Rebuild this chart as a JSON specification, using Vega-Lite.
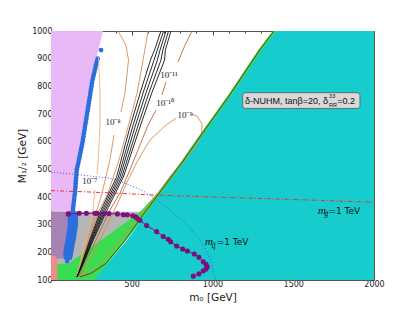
{
"$schema": "https://vega.github.io/schema/vega-lite/v6.json",
"width": 323, "height": 249,
"autosize": {"type": "none"},
"padding": {"left": 51, "top": 31, "right": 41, "bottom": 32},
"background": "white",
"config": {"view": {"stroke": null}, "axis": {"labelFont": "DejaVu Sans", "labelFontSize": 8, "labelColor": "#222", "titleFont": "DejaVu Sans", "titleFontWeight": "normal", "titleFontSize": 10.5, "titleColor": "#222", "grid": false, "zindex": 1, "domainColor": "#555", "tickColor": "#444", "labelFlush": false, "labelOverlap": false}},
"datasets": {
"green": [{"y":100,"x":0,"x2":275},{"y":160,"x":0,"x2":352},{"y":161,"x":110,"x2":353},{"y":353,"x":563,"x2":612},{"y":412,"x":655,"x2":685},{"y":530,"x":808,"x2":835},{"y":606,"x":898,"x2":925},{"y":770,"x":1098,"x2":1125},{"y":931,"x":1283,"x2":1310},{"y":1000,"x":1373,"x2":1400}],
"cyan": [{"y":100,"x":265,"x2":2000},{"y":240,"x":465,"x2":2000},{"y":412,"x":680,"x2":2000},{"y":530,"x":830,"x2":2000},{"y":606,"x":920,"x2":2000},{"y":770,"x":1120,"x2":2000},{"y":931,"x":1305,"x2":2000},{"y":1000,"x":1395,"x2":2000}],
"gray": [{"y":160,"x":0,"x2":108},{"y":347,"x":0,"x2":549}],
"mauve": [{"y":178,"x":0,"x2":88},{"y":200,"x":0,"x2":90},{"y":250,"x":0,"x2":100},{"y":300,"x":0,"x2":118},{"y":347,"x":0,"x2":126}],
"pink": [{"y":347,"x":0,"x2":126},{"y":420,"x":0,"x2":141},{"y":497,"x":0,"x2":151},{"y":534,"x":0,"x2":165},{"y":600,"x":0,"x2":188},{"y":700,"x":0,"x2":215},{"y":823,"x":0,"x2":249},{"y":906,"x":0,"x2":283},{"y":1000,"x":0,"x2":322}],
"salmon": [{"y":100,"x":0,"x2":40},{"y":170,"x":0,"x2":38},{"y":188,"x":0,"x2":25}],
"blue": [{"x":310,"y":931},{"x":289,"y":900},{"x":284.5,"y":890},{"x":280,"y":880},{"x":276,"y":870},{"x":272,"y":860},{"x":268,"y":850},{"x":264,"y":840},{"x":260,"y":830},{"x":256,"y":820},{"x":253.5,"y":810},{"x":251,"y":800},{"x":248,"y":790},{"x":245,"y":780},{"x":242.5,"y":770},{"x":240,"y":760},{"x":237,"y":750},{"x":234,"y":740},{"x":231.5,"y":730},{"x":229,"y":720},{"x":226,"y":710},{"x":223,"y":700},{"x":220.5,"y":690},{"x":218,"y":680},{"x":215,"y":670},{"x":212,"y":660},{"x":209.5,"y":650},{"x":207,"y":640},{"x":204,"y":630},{"x":201,"y":620},{"x":198.5,"y":610},{"x":196,"y":600},{"x":192.5,"y":590},{"x":189,"y":580},{"x":185.5,"y":570},{"x":182,"y":560},{"x":178.5,"y":550},{"x":175,"y":540},{"x":171.5,"y":530},{"x":168,"y":520},{"x":164,"y":510},{"x":160,"y":500},{"x":158.5,"y":490},{"x":157,"y":480},{"x":155.5,"y":470},{"x":154,"y":460},{"x":153,"y":450},{"x":152,"y":440},{"x":150.5,"y":430},{"x":149,"y":420},{"x":147,"y":410},{"x":145,"y":400},{"x":143,"y":390},{"x":141,"y":380},{"x":139,"y":370},{"x":137,"y":360},{"x":135.5,"y":350},{"x":134,"y":340},{"x":134.5,"y":330},{"x":135,"y":320},{"x":135.5,"y":310},{"x":136,"y":300},{"x":133.5,"y":290},{"x":131,"y":280},{"x":128.5,"y":270},{"x":126,"y":260},{"x":123,"y":250},{"x":120,"y":240},{"x":116.5,"y":230},{"x":113,"y":220},{"x":110,"y":210},{"x":107,"y":200},{"x":106.5,"y":190},{"x":106,"y":180},{"x":116,"y":340},{"x":152,"y":340},{"x":117,"y":320},{"x":153,"y":320},{"x":118,"y":300},{"x":154,"y":300},{"x":113,"y":280},{"x":149,"y":280},{"x":108,"y":260},{"x":144,"y":260},{"x":102,"y":240},{"x":138,"y":240},{"x":95,"y":220},{"x":131,"y":220},{"x":89,"y":200},{"x":125,"y":200},{"x":92,"y":180},{"x":118,"y":180},{"x":100,"y":168},{"x":116,"y":330},{"x":153,"y":330},{"x":117,"y":310},{"x":154,"y":310},{"x":116,"y":290},{"x":151,"y":290},{"x":110,"y":270},{"x":146,"y":270},{"x":105,"y":250},{"x":141,"y":250},{"x":98,"y":230},{"x":134,"y":230},{"x":92,"y":210},{"x":128,"y":210},{"x":90,"y":190},{"x":122,"y":190}],
"contours": [
{"id":"L1a","k":"lo","i":1,"x":161,"y":111},{"id":"L1a","k":"lo","i":2,"x":176,"y":154},{"id":"L1a","k":"lo","i":3,"x":217,"y":245},{"id":"L1a","k":"lo","i":4,"x":260,"y":353},{"id":"L1a","k":"lo","i":5,"x":272,"y":425},
{"id":"L1b","k":"lo","i":1,"x":285,"y":483},{"id":"L1b","k":"lo","i":2,"x":293,"y":534},{"id":"L1b","k":"lo","i":3,"x":303,"y":653},{"id":"L1b","k":"lo","i":4,"x":303,"y":776},{"id":"L1b","k":"lo","i":5,"x":294,"y":906},
{"id":"L2a","k":"or","i":1,"x":167,"y":111},{"id":"L2a","k":"or","i":2,"x":183,"y":154},{"id":"L2a","k":"or","i":3,"x":229,"y":245},{"id":"L2a","k":"or","i":4,"x":285,"y":353},{"id":"L2a","k":"or","i":5,"x":316,"y":414},{"id":"L2a","k":"or","i":6,"x":365,"y":534},{"id":"L2a","k":"or","i":7,"x":390,"y":624},
{"id":"L2b","k":"or","i":1,"x":433,"y":707},{"id":"L2b","k":"or","i":2,"x":458,"y":776},{"id":"L2b","k":"or","i":3,"x":480,"y":895},{"id":"L2b","k":"or","i":4,"x":464,"y":949},{"id":"L2b","k":"or","i":5,"x":415,"y":1000},
{"id":"L3","k":"or","i":1,"x":167,"y":111},{"id":"L3","k":"or","i":2,"x":186,"y":154},{"id":"L3","k":"or","i":3,"x":238,"y":245},{"id":"L3","k":"or","i":4,"x":300,"y":353},{"id":"L3","k":"or","i":5,"x":353,"y":414},{"id":"L3","k":"or","i":6,"x":421,"y":534},{"id":"L3","k":"or","i":7,"x":477,"y":653},{"id":"L3","k":"or","i":8,"x":533,"y":776},{"id":"L3","k":"or","i":9,"x":570,"y":895},{"id":"L3","k":"or","i":10,"x":601,"y":1000},
{"id":"B1","k":"bk","i":1,"x":161,"y":111},{"id":"B1","k":"bk","i":2,"x":188,"y":154},{"id":"B1","k":"bk","i":3,"x":240,"y":245},{"id":"B1","k":"bk","i":4,"x":310,"y":353},{"id":"B1","k":"bk","i":5,"x":406,"y":472},{"id":"B1","k":"bk","i":6,"x":489,"y":653},{"id":"B1","k":"bk","i":7,"x":552,"y":776},{"id":"B1","k":"bk","i":8,"x":616,"y":895},{"id":"B1","k":"bk","i":9,"x":641,"y":931},{"id":"B1","k":"bk","i":10,"x":681,"y":1000},
{"id":"B2","k":"bk","i":1,"x":161,"y":111},{"id":"B2","k":"bk","i":2,"x":190,"y":154},{"id":"B2","k":"bk","i":3,"x":245,"y":245},{"id":"B2","k":"bk","i":4,"x":319,"y":353},{"id":"B2","k":"bk","i":5,"x":417,"y":472},{"id":"B2","k":"bk","i":6,"x":505,"y":653},{"id":"B2","k":"bk","i":7,"x":570,"y":776},{"id":"B2","k":"bk","i":8,"x":638,"y":895},{"id":"B2","k":"bk","i":9,"x":658,"y":931},{"id":"B2","k":"bk","i":10,"x":697,"y":1000},
{"id":"B3","k":"bk","i":1,"x":161,"y":111},{"id":"B3","k":"bk","i":2,"x":192,"y":154},{"id":"B3","k":"bk","i":3,"x":251,"y":245},{"id":"B3","k":"bk","i":4,"x":328,"y":353},{"id":"B3","k":"bk","i":5,"x":427,"y":472},{"id":"B3","k":"bk","i":6,"x":520,"y":653},{"id":"B3","k":"bk","i":7,"x":588,"y":776},{"id":"B3","k":"bk","i":8,"x":659,"y":895},{"id":"B3","k":"bk","i":9,"x":675,"y":931},{"id":"B3","k":"bk","i":10,"x":712,"y":1000},
{"id":"B4","k":"bk","i":1,"x":161,"y":111},{"id":"B4","k":"bk","i":2,"x":194,"y":154},{"id":"B4","k":"bk","i":3,"x":256,"y":245},{"id":"B4","k":"bk","i":4,"x":337,"y":353},{"id":"B4","k":"bk","i":5,"x":438,"y":472},{"id":"B4","k":"bk","i":6,"x":536,"y":653},{"id":"B4","k":"bk","i":7,"x":606,"y":776},{"id":"B4","k":"bk","i":8,"x":681,"y":895},{"id":"B4","k":"bk","i":9,"x":692,"y":931},{"id":"B4","k":"bk","i":10,"x":728,"y":1000},
{"id":"B5","k":"bk","i":1,"x":161,"y":111},{"id":"B5","k":"bk","i":2,"x":196,"y":154},{"id":"B5","k":"bk","i":3,"x":262,"y":245},{"id":"B5","k":"bk","i":4,"x":347,"y":353},{"id":"B5","k":"bk","i":5,"x":448,"y":472},{"id":"B5","k":"bk","i":6,"x":551,"y":653},{"id":"B5","k":"bk","i":7,"x":624,"y":776},{"id":"B5","k":"bk","i":8,"x":703,"y":895},{"id":"B5","k":"bk","i":9,"x":708,"y":931},{"id":"B5","k":"bk","i":10,"x":743,"y":1000},
{"id":"R1a","k":"br","i":1,"x":873,"y":1000},{"id":"R1a","k":"br","i":2,"x":830,"y":949},{"id":"R1a","k":"br","i":3,"x":786,"y":888},
{"id":"R1b","k":"br","i":1,"x":712,"y":816},{"id":"R1b","k":"br","i":2,"x":687,"y":769},
{"id":"R1c","k":"br","i":1,"x":650,"y":714},{"id":"R1c","k":"br","i":2,"x":601,"y":660},{"id":"R1c","k":"br","i":3,"x":551,"y":588},{"id":"R1c","k":"br","i":4,"x":489,"y":498},{"id":"R1c","k":"br","i":5,"x":427,"y":414},{"id":"R1c","k":"br","i":6,"x":365,"y":353},{"id":"R1c","k":"br","i":7,"x":279,"y":245},{"id":"R1c","k":"br","i":8,"x":204,"y":154},{"id":"R1c","k":"br","i":9,"x":173,"y":111},
{"id":"E","k":"lp","i":1,"x":774,"y":685},{"id":"E","k":"lp","i":2,"x":706,"y":657},{"id":"E","k":"lp","i":3,"x":613,"y":606},{"id":"E","k":"lp","i":4,"x":539,"y":534},{"id":"E","k":"lp","i":5,"x":477,"y":461},{"id":"E","k":"lp","i":6,"x":427,"y":396},{"id":"E","k":"lp","i":7,"x":384,"y":342},{"id":"E","k":"lp","i":8,"x":303,"y":245},{"id":"E","k":"lp","i":9,"x":223,"y":154},{"id":"E","k":"lp","i":10,"x":180,"y":111},{"id":"E","k":"lp","i":11,"x":240,"y":130},{"id":"E","k":"lp","i":12,"x":303,"y":161},{"id":"E","k":"lp","i":13,"x":425,"y":240},{"id":"E","k":"lp","i":14,"x":540,"y":328},{"id":"E","k":"lp","i":15,"x":586,"y":353},{"id":"E","k":"lp","i":16,"x":660,"y":412},{"id":"E","k":"lp","i":17,"x":746,"y":480},{"id":"E","k":"lp","i":18,"x":815,"y":525},{"id":"E","k":"lp","i":19,"x":865,"y":560},{"id":"E","k":"lp","i":20,"x":905,"y":590},{"id":"E","k":"lp","i":21,"x":932,"y":625},{"id":"E","k":"lp","i":22,"x":935,"y":664},{"id":"E","k":"lp","i":23,"x":904,"y":693},{"id":"E","k":"lp","i":24,"x":867,"y":700},
{"id":"D","k":"dk","i":1,"x":1380,"y":1000},{"id":"D","k":"dk","i":2,"x":1292,"y":931},{"id":"D","k":"dk","i":3,"x":1108,"y":770},{"id":"D","k":"dk","i":4,"x":908,"y":606},{"id":"D","k":"dk","i":5,"x":818,"y":530},{"id":"D","k":"dk","i":6,"x":668,"y":412},{"id":"D","k":"dk","i":7,"x":575,"y":340},{"id":"D","k":"dk","i":8,"x":455,"y":240},{"id":"D","k":"dk","i":9,"x":340,"y":160},{"id":"D","k":"dk","i":10,"x":250,"y":125},{"id":"D","k":"dk","i":11,"x":180,"y":111}
],
"msq": [{"i":1,"x":0,"y":490},{"i":2,"x":180,"y":480},{"i":3,"x":386,"y":466},{"i":4,"x":551,"y":428},{"i":5,"x":613,"y":407},{"i":6,"x":654,"y":390},{"i":7,"x":720,"y":360},{"i":8,"x":799,"y":322},{"i":9,"x":840,"y":300},{"i":10,"x":923,"y":245},{"i":11,"x":985,"y":178},{"i":12,"x":1015,"y":106},{"i":13,"x":1020,"y":100}],
"mgl": [{"i":1,"x":0,"y":423},{"i":2,"x":200,"y":419},{"i":3,"x":400,"y":414},{"i":4,"x":600,"y":408},{"i":5,"x":800,"y":404},{"i":6,"x":1000,"y":400},{"i":7,"x":1500,"y":391},{"i":8,"x":2000,"y":381}],
"purple": [{"i":1,"x":107,"y":339},{"i":2,"x":175,"y":341},{"i":3,"x":219,"y":341},{"i":4,"x":272,"y":341},{"i":5,"x":285,"y":341},{"i":6,"x":330,"y":340},{"i":7,"x":359,"y":340},{"i":8,"x":411,"y":339},{"i":9,"x":448,"y":336},{"i":10,"x":472,"y":336},{"i":11,"x":506,"y":332},{"i":12,"x":524,"y":328},{"i":13,"x":537,"y":321},{"i":14,"x":551,"y":316},{"i":15,"x":592,"y":297},{"i":16,"x":654,"y":275},{"i":17,"x":695,"y":257},{"i":18,"x":726,"y":247},{"i":19,"x":741,"y":238},{"i":20,"x":778,"y":223},{"i":21,"x":815,"y":212},{"i":22,"x":844,"y":205},{"i":23,"x":887,"y":194},{"i":24,"x":916,"y":182},{"i":25,"x":943,"y":166},{"i":26,"x":960,"y":157},{"i":27,"x":968,"y":148},{"i":28,"x":960,"y":140},{"i":29,"x":943,"y":133},{"i":30,"x":916,"y":122},{"i":31,"x":881,"y":114}],
"clabels": [{"t":"10⁻⁷","x":241,"y":458},{"t":"10⁻⁸","x":384,"y":672},{"t":"10⁻⁹","x":830,"y":696},{"t":"10⁻¹⁰","x":706,"y":740},{"t":"10⁻¹¹","x":731,"y":841}],
"box": [{"x":1187,"x2":1913,"y":720,"y2":777}],
"texts": [{"g":"bm","t":"δ-NUHM, tanβ=20, δ","x":1201,"y":747},{"g":"bs","t":"33","x":1722,"y":765},{"g":"bs","t":"RR","x":1722,"y":731},{"g":"bm","t":"=0.2","x":1772,"y":747},
{"g":"mi","t":"m","x":1653,"y":339},{"g":"ms","t":"g̃","x":1693,"y":330},{"g":"mt","t":"=1 TeV","x":1718,"y":339},
{"g":"mi","t":"m","x":954,"y":225},{"g":"ms","t":"q̃","x":995,"y":215},{"g":"mt","t":"=1 TeV","x":1026,"y":225}]
},
"layer": [
{
"encoding": {
 "x": {"field": "x", "type": "quantitative", "scale": {"domain": [0, 2000], "nice": false, "zero": false},
  "axis": {"orient": "bottom", "values": [0,100,200,300,400,500,600,700,800,900,1000,1100,1200,1300,1400,1500,1600,1700,1800,1900,2000], "labelExpr": "datum.value % 500 === 0 && datum.value > 0 ? datum.value : ''", "tickSize": {"condition": {"test": "datum.value % 500 === 0", "value": -4}, "value": -2}, "labelPadding": 4, "title": "m₀ [GeV]", "titlePadding": 2}},
 "y": {"field": "y", "type": "quantitative", "scale": {"domain": [100, 1000], "nice": false, "zero": false},
  "axis": {"orient": "left", "values": [100,150,200,250,300,350,400,450,500,550,600,650,700,750,800,850,900,950,1000], "labelExpr": "datum.value % 100 === 0 ? datum.value : ''", "tickSize": {"condition": {"test": "datum.value % 100 === 0", "value": -4}, "value": -2}, "labelPadding": 3, "title": "M₁/₂ [GeV]", "titlePadding": 4}}
},
"layer": [
 {"data": {"name": "green"}, "mark": {"type": "area", "orient": "horizontal", "color": "#3CDC50", "clip": true}, "encoding": {"x2": {"field": "x2"}}},
 {"data": {"name": "cyan"}, "mark": {"type": "area", "orient": "horizontal", "color": "#16CCCC", "clip": true}, "encoding": {"x2": {"field": "x2"}}},
 {"data": {"name": "gray"}, "mark": {"type": "area", "orient": "horizontal", "color": "#B5B5B5", "clip": true}, "encoding": {"x2": {"field": "x2"}}},
 {"data": {"name": "pink"}, "mark": {"type": "area", "orient": "horizontal", "color": "#E9B8F7", "clip": true}, "encoding": {"x2": {"field": "x2"}}},
 {"data": {"name": "mauve"}, "mark": {"type": "area", "orient": "horizontal", "color": "#A584B5", "clip": true}, "encoding": {"x2": {"field": "x2"}}},
 {"data": {"name": "blue"}, "mark": {"type": "circle", "color": "#2B6FDD", "size": 22, "opacity": 1}},
 {"data": {"name": "contours"}, "mark": {"type": "line", "strokeWidth": 0.9, "clip": true},
  "encoding": {"color": {"field": "k", "type": "nominal", "scale": {"domain": ["lo","or","br","bk","lp","dk"], "range": ["#F6AD72","#D98A58","#B8693C","#111111","#D58A50","#6B2E14"]}, "legend": null}, "detail": {"field": "id"}, "order": {"field": "i"}}},
 {"data": {"name": "msq"}, "mark": {"type": "line", "color": "#3F5BF0", "strokeDash": [1, 2], "strokeWidth": 1, "clip": true}, "encoding": {"order": {"field": "i"}}},
 {"data": {"name": "mgl"}, "mark": {"type": "line", "color": "#E83030", "strokeDash": [4, 2, 1, 2], "strokeWidth": 1, "clip": true}, "encoding": {"order": {"field": "i"}}},
 {"data": {"name": "purple"}, "mark": {"type": "line", "color": "#7F0F7F", "strokeWidth": 1}, "encoding": {"order": {"field": "i"}}},
 {"data": {"name": "purple"}, "mark": {"type": "circle", "color": "#7F0F7F", "size": 26, "opacity": 1}},
 {"data": {"name": "clabels"}, "mark": {"type": "text", "font": "Liberation Serif", "fontSize": 9, "color": "#222", "align": "center", "baseline": "middle"}, "encoding": {"text": {"field": "t"}}},
 {"data": {"name": "box"}, "mark": {"type": "rect", "fill": "#D9D9D9", "stroke": "#555", "strokeWidth": 0.8, "cornerRadius": 3}, "encoding": {"x2": {"field": "x2"}, "y2": {"field": "y2"}}},
 {"data": {"name": "texts"}, "transform": [{"filter": "datum.g === 'bm'"}], "mark": {"type": "text", "font": "Liberation Sans", "fontSize": 9, "color": "#111", "align": "left", "baseline": "middle"}, "encoding": {"text": {"field": "t"}}},
 {"data": {"name": "texts"}, "transform": [{"filter": "datum.g === 'bs'"}], "mark": {"type": "text", "font": "Liberation Sans", "fontSize": 5.5, "color": "#111", "align": "left", "baseline": "middle"}, "encoding": {"text": {"field": "t"}}},
 {"data": {"name": "texts"}, "transform": [{"filter": "datum.g === 'mi'"}], "mark": {"type": "text", "font": "Liberation Serif", "fontStyle": "italic", "fontSize": 11, "color": "#111", "align": "left", "baseline": "alphabetic"}, "encoding": {"text": {"field": "t"}}},
 {"data": {"name": "texts"}, "transform": [{"filter": "datum.g === 'ms'"}], "mark": {"type": "text", "font": "Liberation Serif", "fontStyle": "italic", "fontSize": 7.5, "color": "#111", "align": "left", "baseline": "alphabetic"}, "encoding": {"text": {"field": "t"}}},
 {"data": {"name": "texts"}, "transform": [{"filter": "datum.g === 'mt'"}], "mark": {"type": "text", "font": "DejaVu Sans", "fontSize": 9, "color": "#111", "align": "left", "baseline": "alphabetic"}, "encoding": {"text": {"field": "t"}}}
]
},
{
 "data": {"name": "salmon"},
 "mark": {"type": "area", "orient": "horizontal", "color": "#F08C8C", "clip": true},
 "encoding": {
  "x": {"field": "x", "type": "quantitative", "scale": {"domain": [0, 2000], "nice": false, "zero": false},
   "axis": {"orient": "top", "values": [0,100,200,300,400,500,600,700,800,900,1000,1100,1200,1300,1400,1500,1600,1700,1800,1900,2000], "labels": false, "title": null, "tickSize": {"condition": {"test": "datum.value % 500 === 0", "value": -4}, "value": -2}}},
  "x2": {"field": "x2"},
  "y": {"field": "y", "type": "quantitative", "scale": {"domain": [100, 1000], "nice": false, "zero": false},
   "axis": {"orient": "right", "values": [100,150,200,250,300,350,400,450,500,550,600,650,700,750,800,850,900,950,1000], "labels": false, "title": null, "tickSize": {"condition": {"test": "datum.value % 100 === 0", "value": -4}, "value": -2}}}
 }
}
],
"resolve": {"axis": {"x": "independent", "y": "independent"}}
}
